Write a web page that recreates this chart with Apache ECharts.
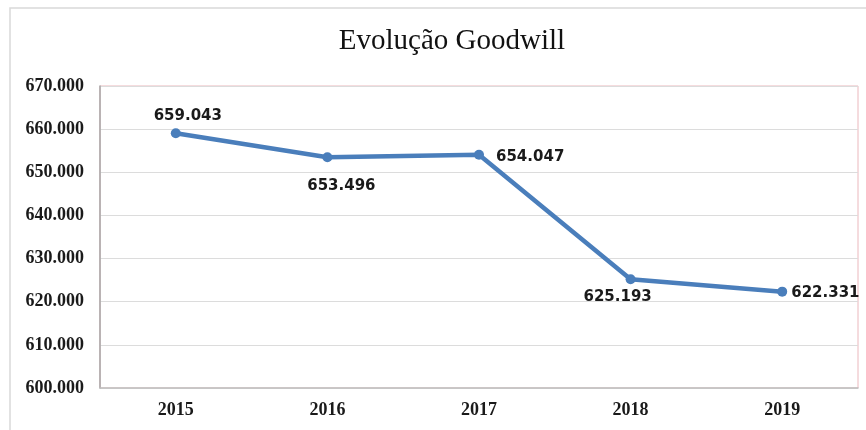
<!DOCTYPE html>
<html>
<head>
<meta charset="utf-8">
<script src="https://cdn.jsdelivr.net/npm/echarts@6/dist/echarts.min.js"></script>
<style>
  html, body { margin: 0; padding: 0; background: #ffffff; }
  #chart { width: 866px; height: 430px; }
</style>
</head>
<body>
<div id="chart"></div>
<script>
// Goodwill per year
const years = ['2015', '2016', '2017', '2018', '2019'];
const goodwill = [659043, 653496, 654047, 625193, 622331];
const yTicks = { min: 600000, max: 670000, step: 10000 };

// Label placement for each point
const labelPlacement = [
  { position: 'top', distance: 5, offset: [12, 0] },
  { position: 'bottom', distance: 16, offset: [14, 0] },
  { position: 'right', distance: 12, offset: [0, 2] },
  { position: 'bottom', distance: 5, offset: [-13, 0] },
  { position: 'right', distance: 4, offset: [0, 1] }
];

// 659043 -> "659.043"
function fmt(v) {
  return String(Math.round(v)).replace(/\B(?=(\d{3})+(?!\d))/g, '.');
}

const chart = echarts.init(document.getElementById('chart'), null, { renderer: 'canvas' });

chart.setOption({
  animation: false,
  backgroundColor: '#ffffff',
  graphic: [{
    type: 'rect',
    shape: { x: 10, y: 8, width: 880, height: 450 },
    style: { fill: 'none', stroke: '#d9d9d9', lineWidth: 1.5 },
    z: -10
  }],
  title: {
    text: 'Evolução Goodwill',
    left: 447,
    top: 22,
    textAlign: 'center',
    textStyle: {
      fontFamily: '"Liberation Serif", "Times New Roman", serif',
      fontSize: 29,
      fontWeight: 'normal',
      color: '#111111'
    }
  },
  grid: {
    left: 100, right: 8, top: 86, bottom: 42,
    show: true,
    borderColor: '#ebb8bd',
    borderWidth: 1
  },
  xAxis: {
    type: 'category',
    data: years,
    boundaryGap: true,
    axisLine: { show: true, lineStyle: { color: '#bfbfbf', width: 1.5 } },
    axisTick: { show: false },
    axisLabel: {
      margin: 13,
      fontFamily: '"Liberation Serif", "Times New Roman", serif',
      fontSize: 18,
      fontWeight: 'bold',
      color: '#1a1a1a'
    }
  },
  yAxis: {
    type: 'value',
    min: yTicks.min,
    max: yTicks.max,
    interval: yTicks.step,
    axisLine: { show: true, lineStyle: { color: '#a6a6a6', width: 1.5 } },
    axisTick: { show: false },
    splitLine: { show: true, lineStyle: { color: '#dcdcdc', width: 1 } },
    axisLabel: {
      margin: 16,
      formatter: fmt,
      fontFamily: '"Liberation Serif", "Times New Roman", serif',
      fontSize: 18,
      fontWeight: 'bold',
      color: '#1a1a1a'
    }
  },
  series: [{
    type: 'line',
    data: goodwill.map((v, i) => ({ value: v, label: labelPlacement[i] })),
    symbol: 'circle',
    symbolSize: 10,
    lineStyle: { color: '#4a7ebb', width: 4.5 },
    itemStyle: { color: '#4a7ebb' },
    label: {
      show: true,
      formatter: p => fmt(p.value),
      fontFamily: '"DejaVu Sans", sans-serif',
      fontSize: 15,
      fontWeight: 'bold',
      color: '#1a1a1a'
    }
  }]
});
</script>
</body>
</html>
